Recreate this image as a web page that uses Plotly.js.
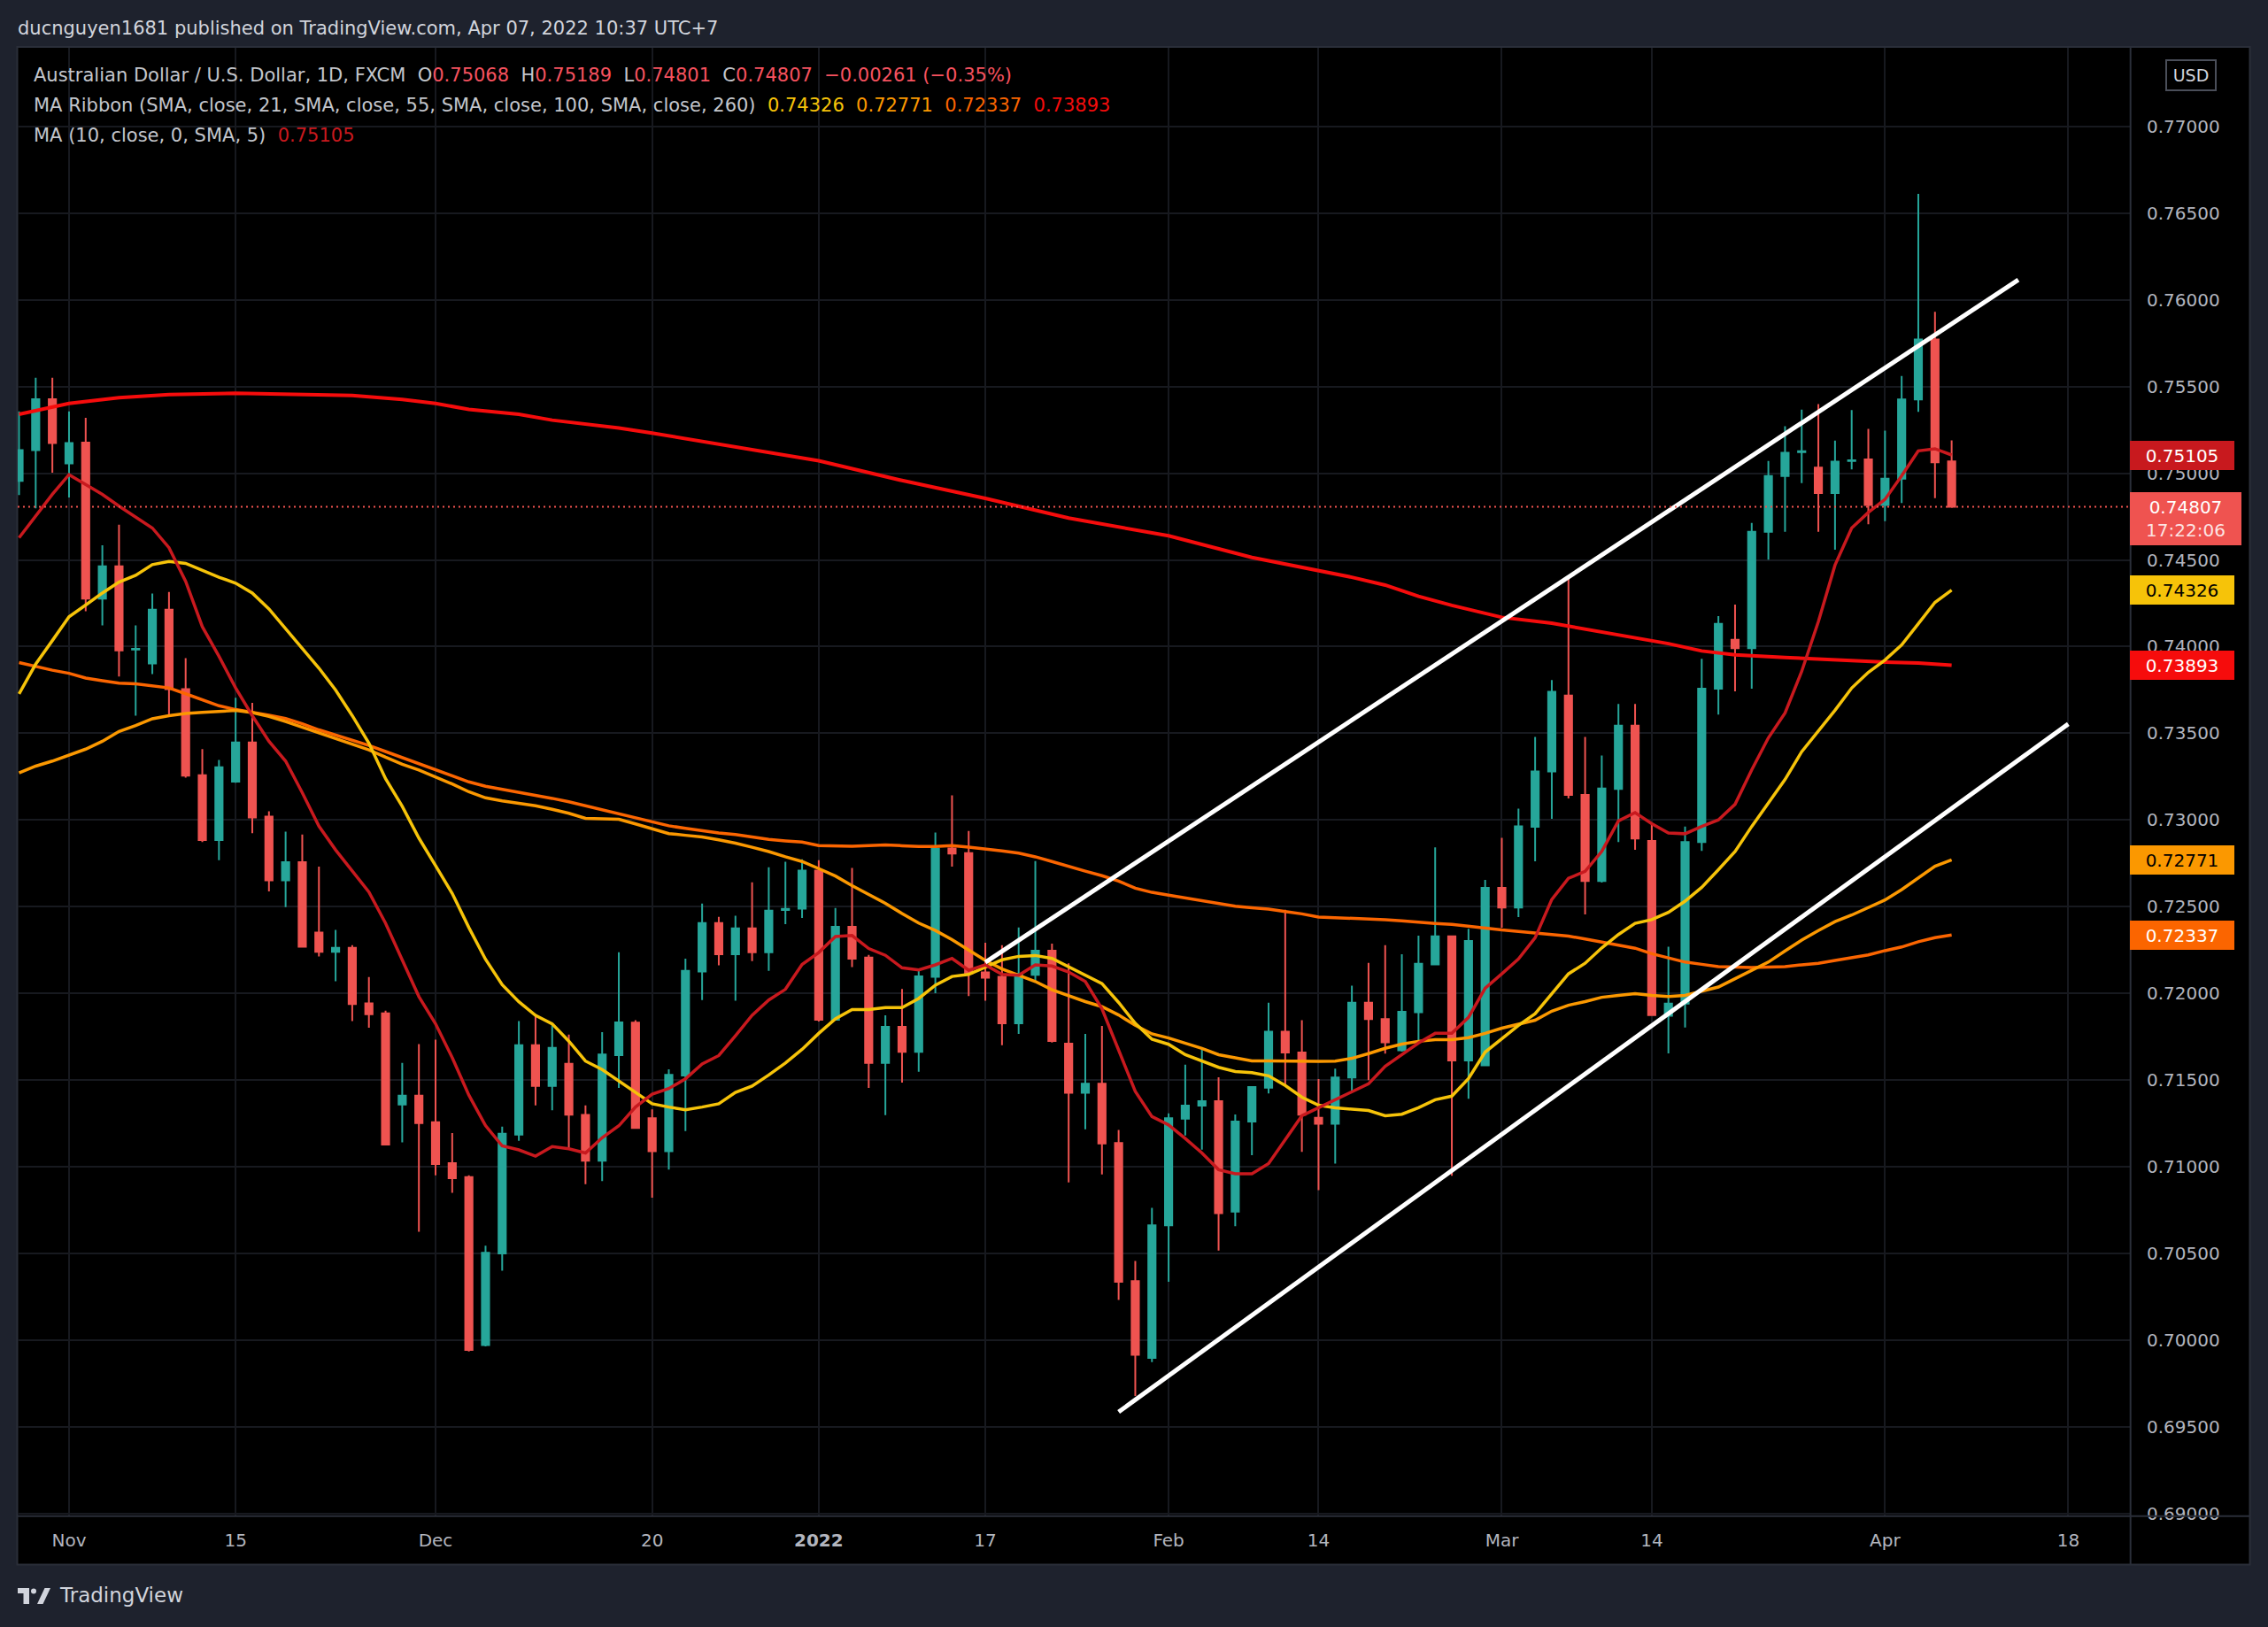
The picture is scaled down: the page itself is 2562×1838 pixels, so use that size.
<!DOCTYPE html>
<html><head><meta charset="utf-8">
<script src="https://cdn.plot.ly/plotly-3.0.1.min.js"></script>
<style>html,body{margin:0;padding:0;background:#1e222d;overflow:hidden}#chart{width:2562px;height:1838px}</style>
</head><body><div id="chart"></div>
<script>
// ---------- DATA (trading-day index 0 = 1 Nov 2021) ----------
const firstDay = -3;
const openP = [0.74956,0.75133,0.75427,0.75056,0.75176,0.74277,0.74463,0.73983,0.73903,0.74213,0.73755,0.73258,0.72885,0.73222,0.73448,0.7302,0.72653,0.72757,0.72351,0.7224,0.72263,0.71943,0.71886,0.7136,0.71411,0.71258,0.71021,0.70941,0.69973,0.70501,0.71186,0.71702,0.71467,0.71594,0.7130,0.71035,0.71644,0.71832,0.7128,0.7109,0.71527,0.72126,0.72406,0.72226,0.72375,0.72238,0.72482,0.72489,0.72708,0.71848,0.72385,0.72207,0.71599,0.71807,0.71664,0.72096,0.72836,0.72809,0.72122,0.72096,0.71828,0.72108,0.72247,0.7171,0.71427,0.7148,0.71138,0.70342,0.69898,0.70663,0.71278,0.71353,0.71379,0.70742,0.71261,0.71457,0.71779,0.71659,0.71283,0.71249,0.71515,0.71947,0.71852,0.71672,0.71892,0.72168,0.7233,0.71613,0.71586,0.72609,0.72496,0.72961,0.7328,0.73718,0.73145,0.72649,0.7318,0.73544,0.7288,0.71871,0.71941,0.72873,0.73758,0.74039,0.73991,0.74662,0.74984,0.75121,0.75032,0.74885,0.7507,0.7508,0.74817,0.74969,0.75425,0.75771,0.75068];
const highP = [0.75356,0.7555,0.7555,0.75356,0.7532,0.74584,0.74703,0.74122,0.74306,0.74315,0.73933,0.73409,0.73347,0.73705,0.73676,0.7305,0.72933,0.72917,0.72732,0.72367,0.72279,0.72095,0.71901,0.716,0.71708,0.71733,0.71195,0.70951,0.70546,0.71232,0.71841,0.7187,0.71825,0.71763,0.71354,0.71777,0.72237,0.71846,0.71331,0.71562,0.72201,0.72518,0.72442,0.72448,0.72641,0.72728,0.72759,0.72773,0.72769,0.72493,0.72724,0.72222,0.71874,0.72026,0.72132,0.72928,0.73142,0.72937,0.72293,0.72279,0.7238,0.72764,0.72288,0.72174,0.71767,0.71813,0.71213,0.70458,0.70764,0.71309,0.71589,0.71681,0.71517,0.71302,0.71466,0.71947,0.72483,0.71846,0.71506,0.71567,0.72045,0.72177,0.72278,0.72226,0.72333,0.72842,0.72335,0.72373,0.72655,0.72897,0.73066,0.73479,0.73807,0.74411,0.73479,0.73372,0.73669,0.73669,0.72979,0.7227,0.72963,0.7393,0.74176,0.74243,0.74713,0.7507,0.75271,0.75367,0.75399,0.75188,0.75364,0.75255,0.75246,0.75561,0.76611,0.7593,0.75189];
const lowP = [0.74874,0.74798,0.75003,0.7486,0.74204,0.74122,0.73828,0.73602,0.73842,0.73602,0.73244,0.72873,0.72769,0.73215,0.72924,0.72589,0.72498,0.72265,0.72214,0.7207,0.71841,0.71802,0.71125,0.71141,0.70626,0.70951,0.70851,0.69936,0.69965,0.70401,0.7115,0.71354,0.71326,0.71111,0.7090,0.70918,0.71456,0.7122,0.70822,0.70984,0.71206,0.71962,0.72162,0.71958,0.72187,0.7213,0.724,0.72436,0.71838,0.71848,0.72152,0.71456,0.71298,0.71486,0.71548,0.72002,0.72732,0.71985,0.71958,0.71702,0.71767,0.72069,0.71717,0.70911,0.71217,0.70957,0.70233,0.69679,0.69874,0.70337,0.71181,0.711,0.70518,0.70658,0.71068,0.71423,0.71472,0.71086,0.70866,0.71019,0.71433,0.715,0.71653,0.71665,0.71718,0.72168,0.70949,0.71393,0.71586,0.72379,0.72441,0.72762,0.73007,0.73124,0.72456,0.7264,0.72873,0.72829,0.71871,0.71654,0.71804,0.72822,0.73608,0.73742,0.73758,0.74502,0.74662,0.74943,0.74662,0.74559,0.75022,0.74705,0.74723,0.74828,0.75354,0.74856,0.74801];
const closeP = [0.75133,0.75427,0.75174,0.75174,0.74277,0.74463,0.73978,0.73987,0.74213,0.73755,0.73256,0.72885,0.73304,0.73448,0.73015,0.72653,0.72757,0.72269,0.7224,0.72263,0.71939,0.7188,0.71129,0.71411,0.71252,0.71017,0.70935,0.69944,0.70505,0.71191,0.71702,0.71467,0.71686,0.71301,0.71035,0.71648,0.71833,0.71225,0.7109,0.71531,0.7213,0.72406,0.72226,0.72375,0.72238,0.72477,0.72488,0.72708,0.71848,0.72385,0.72201,0.71599,0.71807,0.71664,0.72099,0.72835,0.72807,0.72115,0.72091,0.71828,0.72112,0.72247,0.71726,0.71427,0.7148,0.71135,0.70337,0.69917,0.70663,0.7128,0.71353,0.71379,0.70733,0.71261,0.71461,0.71779,0.71659,0.71301,0.71249,0.71515,0.71947,0.71852,0.71718,0.71895,0.72171,0.7233,0.71613,0.72303,0.72609,0.72496,0.72964,0.7328,0.7374,0.73145,0.72649,0.73182,0.73544,0.72893,0.71875,0.71941,0.72873,0.73758,0.74131,0.73991,0.74662,0.74984,0.75118,0.75127,0.74885,0.75067,0.75075,0.74817,0.74969,0.75425,0.75771,0.75063,0.74807];

const ma10 = [0.74628,0.74753,0.74878,0.74992,0.74935,0.74878,0.7481,0.74746,0.74684,0.74571,0.74377,0.74115,0.73944,0.73762,0.73602,0.73454,0.7334,0.73158,0.72965,0.72828,0.72703,0.72585,0.72405,0.72197,0.71982,0.71825,0.7163,0.71414,0.71238,0.71121,0.71098,0.71062,0.71117,0.71104,0.7108,0.71168,0.71237,0.71345,0.71419,0.71452,0.71507,0.71593,0.71642,0.71756,0.71874,0.71962,0.72024,0.72167,0.72236,0.72328,0.72334,0.72259,0.7222,0.72148,0.72136,0.72165,0.72202,0.72134,0.72165,0.7211,0.72105,0.72165,0.72158,0.72124,0.72069,0.71912,0.71671,0.71435,0.7129,0.71242,0.71164,0.7108,0.70984,0.7096,0.7096,0.71019,0.71157,0.71295,0.71341,0.71387,0.71433,0.71479,0.7158,0.71647,0.71714,0.7177,0.7177,0.71862,0.7203,0.72113,0.72199,0.72321,0.72542,0.72664,0.72704,0.72819,0.72995,0.73043,0.72979,0.72925,0.72921,0.72963,0.73001,0.73091,0.73289,0.73474,0.73617,0.73857,0.74144,0.7447,0.74684,0.74774,0.74849,0.74985,0.75129,0.75141,0.75105];
const ma21 = [0.73728,0.73899,0.74035,0.74172,0.7424,0.74309,0.74372,0.74411,0.74473,0.74491,0.7448,0.74441,0.744,0.74366,0.74309,0.74217,0.74104,0.7399,0.73876,0.7375,0.73602,0.73443,0.73238,0.73079,0.72896,0.72737,0.72577,0.7238,0.72197,0.7205,0.71952,0.71874,0.71825,0.71725,0.7161,0.71561,0.71497,0.7143,0.71364,0.71345,0.71329,0.71345,0.71364,0.71429,0.71466,0.7153,0.71599,0.71678,0.7177,0.71854,0.71907,0.71907,0.71919,0.71919,0.71971,0.72048,0.72098,0.7211,0.72153,0.72194,0.72214,0.72219,0.72202,0.72153,0.72105,0.72057,0.71948,0.71828,0.71736,0.71707,0.71647,0.71611,0.71574,0.7155,0.71543,0.71525,0.71469,0.71402,0.71356,0.71341,0.71335,0.71325,0.71295,0.71304,0.71341,0.71387,0.71408,0.71509,0.71662,0.71739,0.71816,0.71883,0.71999,0.72113,0.72174,0.72263,0.7234,0.72404,0.72426,0.72468,0.72532,0.72612,0.72714,0.72819,0.72963,0.73097,0.73234,0.73394,0.73512,0.73633,0.73761,0.73852,0.73923,0.7401,0.74132,0.74255,0.74326];
const ma55 = [0.73272,0.73311,0.7334,0.73375,0.73409,0.73454,0.73511,0.73545,0.73584,0.73602,0.73614,0.73621,0.73625,0.73632,0.7362,0.73598,0.73568,0.73535,0.735,0.73468,0.73438,0.73405,0.73362,0.73322,0.73288,0.73248,0.73208,0.73163,0.73128,0.7311,0.73096,0.73082,0.73062,0.73039,0.7301,0.73007,0.73004,0.72978,0.72951,0.72922,0.72912,0.72902,0.72886,0.72867,0.72843,0.72818,0.72788,0.72761,0.7272,0.72677,0.72622,0.72569,0.7252,0.72461,0.72406,0.72363,0.7231,0.7225,0.7219,0.72141,0.72105,0.72069,0.72021,0.71985,0.71953,0.71924,0.71876,0.71816,0.71767,0.71743,0.71714,0.71683,0.71647,0.71628,0.71611,0.71611,0.71609,0.71607,0.71608,0.7161,0.71626,0.71653,0.71684,0.71708,0.71724,0.71733,0.71733,0.71745,0.7177,0.718,0.71825,0.71846,0.71898,0.71932,0.71953,0.71978,0.71989,0.71999,0.71989,0.71983,0.71989,0.72011,0.72037,0.72085,0.72133,0.72181,0.72245,0.72308,0.72363,0.72414,0.72452,0.72494,0.72539,0.72599,0.72668,0.72734,0.72771];
const ma100 = [0.73908,0.73885,0.73864,0.73846,0.73819,0.73803,0.73789,0.73785,0.73773,0.73762,0.73728,0.73694,0.73659,0.73637,0.73622,0.73605,0.73585,0.73555,0.7352,0.7349,0.73462,0.7343,0.73395,0.7336,0.73325,0.7329,0.73255,0.7322,0.73195,0.73178,0.73162,0.73145,0.73125,0.73105,0.73082,0.7306,0.73039,0.73015,0.72994,0.72967,0.72952,0.72937,0.72926,0.72916,0.72902,0.72888,0.7288,0.72873,0.72853,0.72851,0.72849,0.72853,0.72857,0.72852,0.72847,0.72847,0.72853,0.72844,0.72834,0.72822,0.72809,0.72788,0.72761,0.72732,0.72705,0.72679,0.72648,0.72607,0.72583,0.72567,0.72551,0.72532,0.72517,0.72503,0.72494,0.72486,0.72472,0.72459,0.72441,0.72438,0.72435,0.72432,0.72425,0.72419,0.7241,0.72404,0.72398,0.72386,0.72374,0.72366,0.72358,0.7235,0.72343,0.72331,0.72314,0.72297,0.72279,0.72261,0.72229,0.72205,0.72181,0.72168,0.72155,0.72152,0.72149,0.72152,0.72155,0.72165,0.72174,0.7219,0.72206,0.72222,0.72247,0.72268,0.72298,0.72322,0.72337];
const ma260Day = [-3,0,3,6,10,14,17,20,22,24,27,29,33,35,40,45,50,55,60,66,71,74,77,79,81,83,86,89,92,94,96,98,100,103,105,107,109,111,113];
const ma260 = [0.7534,0.75402,0.75436,0.75454,0.75461,0.75454,0.75448,0.75425,0.75402,0.75368,0.7534,0.75306,0.75261,0.75231,0.75151,0.75072,0.74958,0.74855,0.74741,0.74639,0.74514,0.74455,0.744,0.74355,0.7429,0.74238,0.74169,0.74135,0.74085,0.74055,0.74017,0.73975,0.73953,0.73937,0.73927,0.73921,0.73911,0.73905,0.73893];

const upperLineDay = [55.0, 117.0];
const upperLinePrice = [0.7218, 0.76115];
const lowerLineDay = [63.0, 120.0];
const lowerLinePrice = [0.69587, 0.73554];

const tickDays = [0,10,22,35,45,55,66,75,86,95,109,120];
const tickLabels = ['Nov','15','Dec','20','<b>2022</b>','17','Feb','14','Mar','14','Apr','18'];
const priceTicks = [0.69,0.695,0.70,0.705,0.71,0.715,0.72,0.725,0.73,0.735,0.74,0.745,0.75,0.755,0.76,0.765,0.77];

const ribbonColors = ['#f6c309','#fb9800','#fb6500','#f60c0c'];
const ma10Color = '#c8191e';
const upColor = '#26a69a', downColor = '#ef5350';

// ---------- helpers ----------
const days = openP.map((_, k) => firstDay + k);
const daysOf = arr => arr.map((_, k) => firstDay + k);
const last = arr => arr[arr.length - 1];
const PL = 20, PR = 2406, PT = 54, PB = 1712;
const px2x = px => (px - PL) / (PR - PL);
const py2y = py => (PB - py) / (PB - PT);
const FONT = '"DejaVu Sans", Verdana, sans-serif';

const traces = [
  {type:'candlestick', x: days, open: openP, high: highP, low: lowP, close: closeP,
   increasing:{line:{color:upColor,width:2}, fillcolor:upColor},
   decreasing:{line:{color:downColor,width:2}, fillcolor:downColor},
   whiskerwidth:0, hoverinfo:'skip', showlegend:false},
  {type:'scatter', mode:'lines', x: ma260Day, y: ma260, line:{color:ribbonColors[3], width:4}, hoverinfo:'skip'},
  {type:'scatter', mode:'lines', x: daysOf(ma100), y: ma100, line:{color:ribbonColors[2], width:3.5}, hoverinfo:'skip'},
  {type:'scatter', mode:'lines', x: daysOf(ma55), y: ma55, line:{color:ribbonColors[1], width:3.5}, hoverinfo:'skip'},
  {type:'scatter', mode:'lines', x: daysOf(ma21), y: ma21, line:{color:ribbonColors[0], width:3.5}, hoverinfo:'skip'},
  {type:'scatter', mode:'lines', x: daysOf(ma10), y: ma10, line:{color:ma10Color, width:3.5}, hoverinfo:'skip'},
  {type:'scatter', mode:'lines', x: upperLineDay, y: upperLinePrice, line:{color:'#ffffff', width:5}, hoverinfo:'skip'},
  {type:'scatter', mode:'lines', x: lowerLineDay, y: lowerLinePrice, line:{color:'#ffffff', width:5}, hoverinfo:'skip'}
];

const lastO = last(openP), lastH = last(highP), lastL = last(lowP), lastC = last(closeP);
const chg = lastC - lastO;
const chgPct = chg / lastO * 100;
const red = '#f7525f';
const sp = '\u00a0\u00a0';
const signed = v => (v < 0 ? '\u2212' : '+') + Math.abs(v).toFixed(5);
const line1 = 'Australian Dollar / U.S. Dollar, 1D, FXCM' + sp +
  'O<span style="color:'+red+'">'+lastO.toFixed(5)+'</span>'+sp+
  'H<span style="color:'+red+'">'+lastH.toFixed(5)+'</span>'+sp+
  'L<span style="color:'+red+'">'+lastL.toFixed(5)+'</span>'+sp+
  'C<span style="color:'+red+'">'+lastC.toFixed(5)+'</span>'+sp+
  '<span style="color:'+red+'">'+signed(chg)+' ('+(chgPct<0?'\u2212':'+')+Math.abs(chgPct).toFixed(2)+'%)</span>';
const ribLast = [last(ma21), last(ma55), last(ma100), last(ma260)];
const line2 = 'MA Ribbon (SMA, close, 21, SMA, close, 55, SMA, close, 100, SMA, close, 260)' +
  ribLast.map((v,k) => sp + '<span style="color:'+ribbonColors[k]+'">'+v.toFixed(5)+'</span>').join('');
const line3 = 'MA (10, close, 0, SMA, 5)' + sp + '<span style="color:'+ma10Color+'">'+last(ma10).toFixed(5)+'</span>';

const legendFont = {family: FONT, size: 21, color: '#c3c6cc'};
const annotations = [
  {xref:'paper', yref:'paper', x:px2x(18), y:py2y(32), xanchor:'left', yanchor:'middle', showarrow:false,
   text:'ducnguyen1681 published on TradingView.com, Apr 07, 2022 10:37 UTC+7', font:{family:FONT, size:21, color:'#d1d4dc'}},
  {xref:'paper', yref:'paper', x:px2x(36), y:py2y(85), xanchor:'left', yanchor:'middle', showarrow:false, text:line1, font:legendFont},
  {xref:'paper', yref:'paper', x:px2x(36), y:py2y(119), xanchor:'left', yanchor:'middle', showarrow:false, text:line2, font:legendFont},
  {xref:'paper', yref:'paper', x:px2x(36), y:py2y(153), xanchor:'left', yanchor:'middle', showarrow:false, text:line3, font:legendFont},
  {xref:'paper', yref:'paper', x:px2x(2474.5), y:py2y(84.6), xanchor:'center', yanchor:'middle', showarrow:false,
   text:'USD', width:54, height:32, bordercolor:'#4a4e59', borderwidth:2, borderpad:0, bgcolor:'#000000',
   font:{family:FONT, size:19, color:'#d1d4dc'}},
  {xref:'paper', yref:'paper', x:px2x(65), y:py2y(1802), xanchor:'left', yanchor:'middle', showarrow:false,
   text:'TradingView', font:{family:FONT, size:23, color:'#d1d4dc'}}
];
// price-axis value boxes
const boxes = [
  {v: last(ma10), bg: ma10Color, fg:'#ffffff'},
  {v: ribLast[0], bg: ribbonColors[0], fg:'#000000'},
  {v: ribLast[3], bg: ribbonColors[3], fg:'#ffffff'},
  {v: ribLast[1], bg: ribbonColors[1], fg:'#000000'},
  {v: ribLast[2], bg: ribbonColors[2], fg:'#ffffff'}
];
boxes.forEach(b => annotations.push({xref:'paper', yref:'y', x:px2x(2406), y:b.v, xanchor:'left', yanchor:'middle',
  showarrow:false, text:b.v.toFixed(5), width:118, height:33, borderpad:0, borderwidth:0, bgcolor:b.bg, align:'center', valign:'middle',
  font:{family:FONT, size:20, color:b.fg}}));
annotations.push({xref:'paper', yref:'y', x:px2x(2406), y:lastC, yshift:-14, xanchor:'left', yanchor:'middle',
  showarrow:false, text:lastC.toFixed(5)+'<br><span style="color:rgba(255,255,255,0.85)">17:22:06</span>',
  width:126, height:60, borderpad:0, borderwidth:0, bgcolor:'#ef5350', align:'center', valign:'middle',
  font:{family:FONT, size:20, color:'#ffffff'}});

const shapes = [
  {type:'rect', xref:'paper', yref:'paper', x0:px2x(19.5), x1:px2x(2541.5), y0:py2y(1767.5), y1:py2y(53),
   fillcolor:'#000000', line:{color:'#2a2e39', width:2}, layer:'below'},
  {type:'line', xref:'paper', yref:'paper', x0:px2x(2406.7), x1:px2x(2406.7), y0:py2y(1767.5), y1:py2y(53),
   line:{color:'#2a2e39', width:2}, layer:'above'},
  {type:'line', xref:'paper', yref:'paper', x0:px2x(19.5), x1:px2x(2541.5), y0:py2y(1712.7), y1:py2y(1712.7),
   line:{color:'#2a2e39', width:2}, layer:'above'},
  {type:'line', xref:'paper', yref:'y', x0:0, x1:1, y0:lastC, y1:lastC,
   line:{color:'#ef5350', width:2, dash:'2px,4px'}, layer:'above'},
  // TradingView logo
  {type:'rect', xref:'paper', yref:'paper', x0:px2x(20), x1:px2x(33), y0:py2y(1800), y1:py2y(1794), fillcolor:'#d1d4dc', line:{width:0}},
  {type:'rect', xref:'paper', yref:'paper', x0:px2x(26.5), x1:px2x(33), y0:py2y(1812), y1:py2y(1794), fillcolor:'#d1d4dc', line:{width:0}},
  {type:'circle', xref:'paper', yref:'paper', x0:px2x(35), x1:px2x(41), y0:py2y(1800.5), y1:py2y(1794.5), fillcolor:'#d1d4dc', line:{width:0}},
  {type:'path', xref:'paper', yref:'paper',
   path:'M '+px2x(42)+','+py2y(1812)+' L '+px2x(48.5)+','+py2y(1812)+' L '+px2x(57)+','+py2y(1794)+' L '+px2x(50.5)+','+py2y(1794)+' Z',
   fillcolor:'#d1d4dc', line:{width:0}}
];

const layout = {
  width:2562, height:1838,
  margin:{l:PL, r:2562-PR, t:PT, b:1838-PB, pad:0},
  paper_bgcolor:'#1e222d', plot_bgcolor:'#000000',
  font:{family:FONT, size:20, color:'#b2b5be'},
  showlegend:false, boxgap:0.38,
  xaxis:{range:[-3.08, 123.7], tickmode:'array', tickvals:tickDays, ticktext:tickLabels,
         showgrid:true, gridcolor:'#17191f', gridwidth:2, zeroline:false, showline:false, ticks:'',
         tickfont:{family:FONT, size:20, color:'#b2b5be'}, ticklabelstandoff:14,
         rangeslider:{visible:false}, fixedrange:true},
  yaxis:{side:'right', range:[0.6899, 0.77453], tickmode:'array', tickvals:priceTicks,
         ticktext:priceTicks.map(v => v.toFixed(5)), showgrid:true, gridcolor:'#17191f', gridwidth:2,
         zeroline:false, showline:false, ticks:'', tickfont:{family:FONT, size:20, color:'#b2b5be'},
         ticklabelstandoff:18, fixedrange:true},
  annotations: annotations,
  shapes: shapes
};
Plotly.newPlot('chart', traces, layout, {displayModeBar:false, staticPlot:true});
</script>
</body></html>
